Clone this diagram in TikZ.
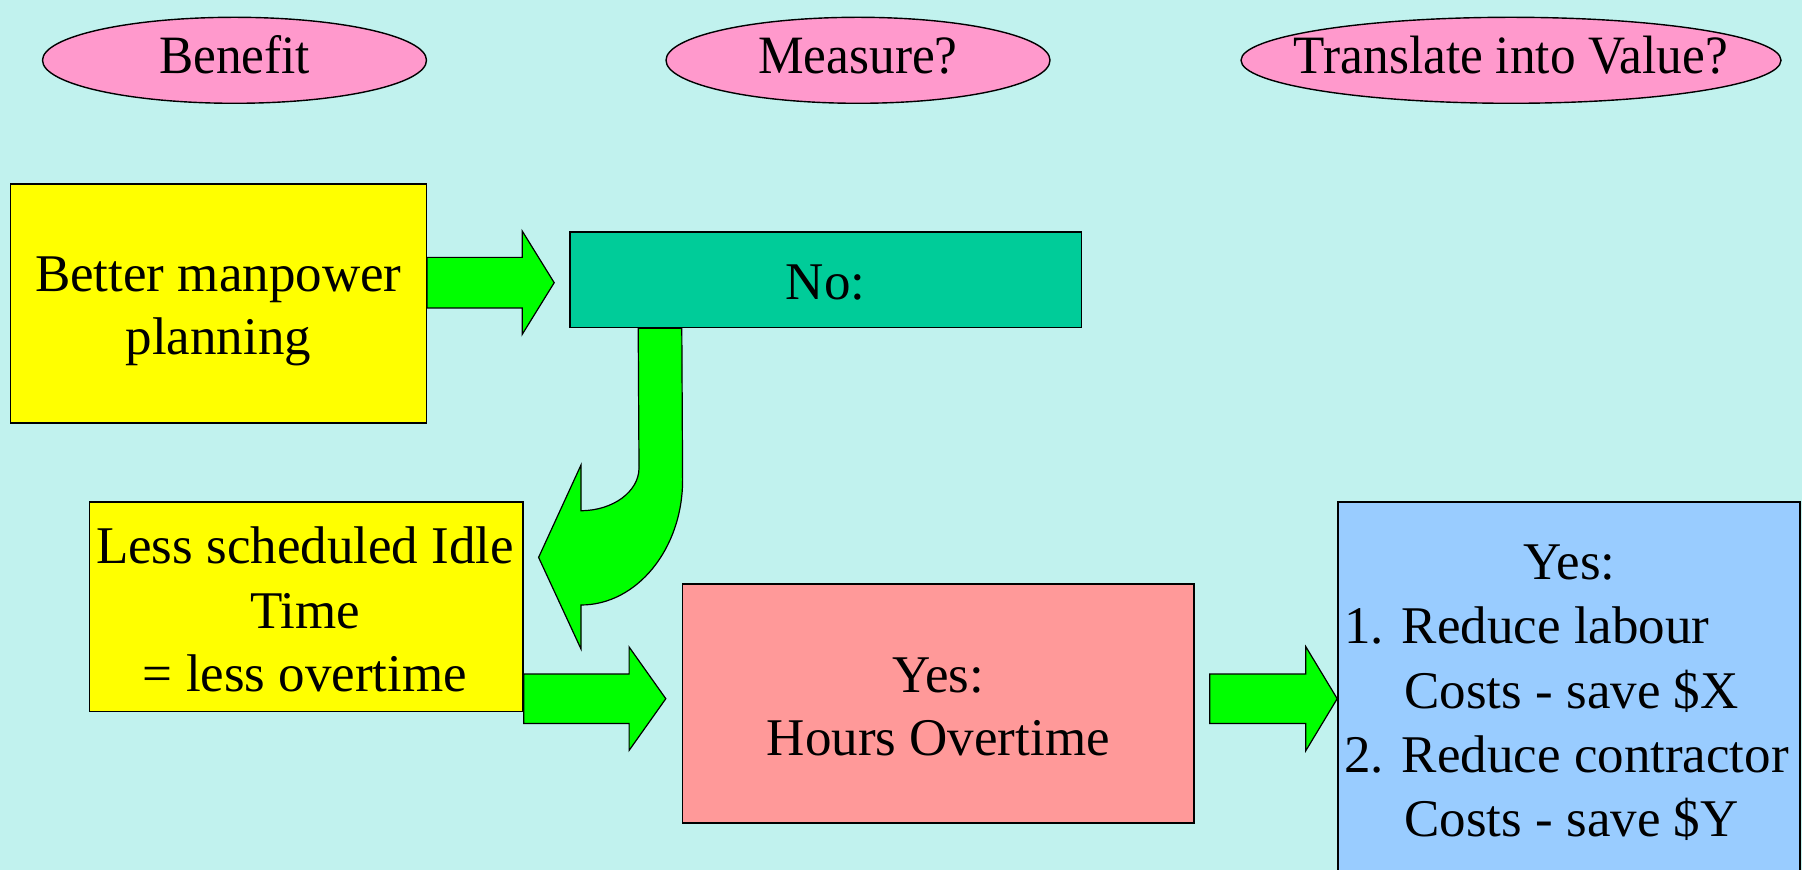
\documentclass[tikz,border=0pt]{standalone}
\usepackage{fontspec}
\setmainfont{Liberation Serif}
\usetikzlibrary{shapes.geometric,calc}

\definecolor{bg}{HTML}{C1F2EE}
\definecolor{ovalpink}{HTML}{FF99CC}
\definecolor{boxyellow}{HTML}{FFFF00}
\definecolor{boxteal}{HTML}{00CC99}
\definecolor{boxsalmon}{HTML}{FF9999}
\definecolor{boxblue}{HTML}{99CCFF}
\definecolor{arrowgreen}{HTML}{00FF00}

\newcommand{\bodyfont}{\fontsize{26.5pt}{32.1pt}\selectfont}
\newcommand{\headfont}{\fontsize{27pt}{32pt}\selectfont}

% horizontal block arrow: start, tip, half shaft, half head, head length
\newcommand{\blockarrow}[5]{%
  \draw[arrowfill] let \p1=(#1), \p2=(#2) in
    (\x1,\y1+#3) -- (\x2-#5,\y1+#3) -- (\x2-#5,\y1+#4) -- (\x2,\y1) --
    (\x2-#5,\y1-#4) -- (\x2-#5,\y1-#3) -- (\x1,\y1-#3) -- cycle;}

\begin{document}
\begin{tikzpicture}[x=0.5pt,y=-0.5pt,
  oval/.style={ellipse, draw=black, line width=0.7pt, fill=ovalpink,
    inner sep=0pt, minimum height=43pt},
  headtxt/.style={inner sep=0pt, anchor=base, font=\headfont, xscale=0.95},
  box/.style={rectangle, draw=black, line width=0.8pt, inner sep=0pt},
  txt/.style={inner sep=0pt, anchor=base, font=\bodyfont},
  ltxt/.style={txt, anchor=base west},
  arrowfill/.style={fill=arrowgreen, draw=black, line width=0.6pt, line join=miter}]

\fill[bg] (0,0) rectangle (1802,870);
\useasboundingbox (0,0) rectangle (1802,870);

% column headings
\node[oval, minimum width=192pt] (hb) at (234.5,60.3) {};
\node[oval, minimum width=192pt] (hm) at (858,60.3) {};
\node[oval, minimum width=270pt] (hv) at (1511,60.3) {};
\node[headtxt] (hbt) at (hb |- 0,73.5) {Benefit};
\node[headtxt] (hmt) at (hm |- 0,73.5) {Measure?};
\node[headtxt] (hvt) at (hv |- 0,73.5) {Translate into Value?};

% boxes
\node[box, fill=boxyellow, minimum width=208pt, minimum height=119.5pt]
  (b1) at (218.3,303.4) {};
\node[box, fill=boxteal, minimum width=255.7pt, minimum height=47.8pt]
  (no) at (825.7,279.8) {};
\node[box, fill=boxyellow, minimum width=216.65pt, minimum height=104.65pt]
  (b2) at (306.25,606.65) {};
\node[box, fill=boxsalmon, minimum width=255.7pt, minimum height=119.5pt]
  (b3) at (938.3,703.3) {};
\node[box, fill=boxblue, minimum width=231pt, minimum height=199pt]
  (b4) at (1569,701) {};

% box texts
\node[txt] (b1a) at (b1 |- 0,291.7) {Better manpower};
\node[txt] (b1b) at (b1 |- 0,355) {planning};
\node[txt] (noa) at (no |- 0,300) {No:};
\node[txt] (b2a) at (305,563.3) {Less scheduled Idle};
\node[txt] (b2b) at (305,628.3) {Time};
\node[txt] (b2c) at (305,691.7) {= less overtime};
\node[txt] (b3a) at (b3 |- 0,692.7) {Yes:};
\node[txt] (b3b) at (b3 |- 0,755) {Hours Overtime};
\node[txt] (v0) at (1569.6,580) {Yes:};
\node[ltxt] (v1) at (1344,643.3) {1. Reduce labour};
\node[ltxt] (v2) at (1404,708.3) {Costs - save \$X};
\node[ltxt] (v3) at (1344,772.4) {2. Reduce contractor};
\node[ltxt] (v4) at (1404,836.7) {Costs - save \$Y};

% arrow heights
\coordinate (r1) at (0,282.7);
\coordinate (r2) at (0,698.7);

% straight block arrows
\blockarrow{b1.east |- r1}{$(no.west)+(-15,0)$}{12.65pt}{25.85pt}{16pt}
\blockarrow{b2.east |- r2}{$(b3.west)+(-16,0)$}{12.35pt}{25.85pt}{18.35pt}
\blockarrow{$(b3.east |- r2)+(15,0)$}{b4.west}{12.35pt}{26pt}{15.7pt}

% curved arrow from the "No:" box back to the idle-time box
\draw[arrowfill]
  ($(no.south west)+(69,0)$) -- (639,468)
  .. controls (639,491.5) and (612.9,510.7) .. (581,510.7)
  -- (581,465) -- ($(b2.east)+(14.9,-49.25)$) -- (581,649) -- (581,605)
  .. controls (636.9,605) and (682.6,548.8) .. (682.6,480)
  -- ($(no.south west)+(112.6,0)$) -- cycle;

\end{tikzpicture}
\end{document}
